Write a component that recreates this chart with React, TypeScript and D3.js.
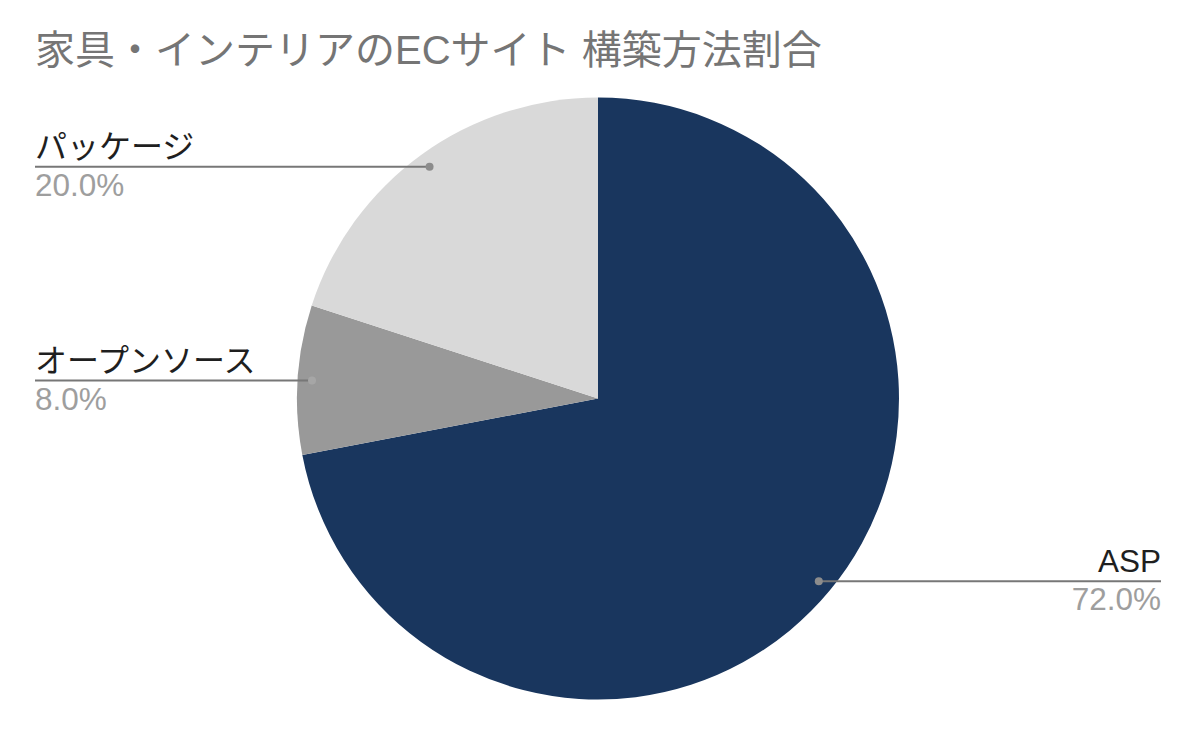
import React from "react";
import * as d3 from "d3";

const categories = ["ASP", "オープンソース", "パッケージ"];
const values = [72.0, 8.0, 20.0];
const colors = ["#19365e", "#999999", "#d9d9d9"];
const title = "家具・インテリアのECサイト 構築方法割合";

const W = 1196;
const H = 734;
const cx = 598;
const cy = 398.5;
const R = 301;

export default function App() {
  const pie = d3.pie<number>().sort(null).value((d) => d);
  const arcs = pie(values);
  const arcGen = d3.arc<d3.PieArcDatum<number>>().innerRadius(0).outerRadius(R);
  const fmt = d3.format(".1f");
  const latin = "'Liberation Sans', Arial, 'Noto Sans CJK JP', sans-serif";
  return (
    <svg width={W} height={H} style={{ position: "absolute", left: 0, top: 0, background: "#fff" }}>
      <rect width={W} height={H} fill="#fff" />
      <text x={35} y={64} fontSize={40} fill="#757575" fontFamily="'Liberation Sans', 'Noto Sans CJK JP', sans-serif">
        {title}
      </text>
      <g transform={`translate(${cx},${cy})`}>
        {arcs.map((a, i) => (
          <path key={i} d={arcGen(a) || ""} fill={colors[i]} />
        ))}
      </g>
      {arcs.map((a, i) => {
        const mid = (a.startAngle + a.endAngle) / 2;
        const r = R * 0.952;
        const px = cx + r * Math.sin(mid);
        const py = cy - r * Math.cos(mid);
        const right = Math.sin(mid) > 0;
        const ex = right ? 1161 : 35;
        const anchor = right ? "end" : "start";
        const isLatin = /^[A-Za-z]+$/.test(categories[i]);
        return (
          <g key={i}>
            <line x1={px} y1={py} x2={ex} y2={py} stroke="#777777" strokeWidth={2} />
            <circle cx={px} cy={py} r={4} fill={i === 1 ? "#a6a6a6" : "#8c8c8c"} />
            <text x={ex} y={py - 9} textAnchor={anchor} fontSize={isLatin ? 31.5 : 32} fill="#1f1f1f" fontFamily={latin}>
              {categories[i]}
            </text>
            <text x={ex} y={py + 29} textAnchor={anchor} fontSize={31.5} fill="#9e9e9e" fontFamily={latin}>
              {fmt(values[i]) + "%"}
            </text>
          </g>
        );
      })}
    </svg>
  );
}
